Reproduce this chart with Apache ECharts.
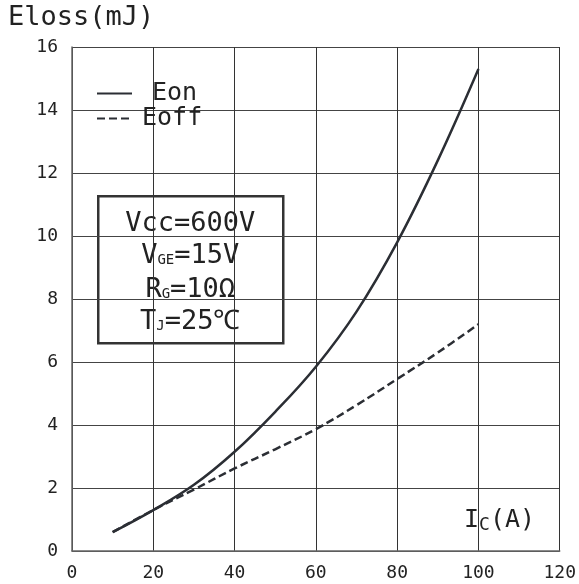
<!DOCTYPE html>
<html>
<head>
<meta charset="utf-8">
<script src="https://cdn.jsdelivr.net/npm/echarts@6/dist/echarts.min.js"></script>
<style>html,body{margin:0;padding:0;background:#fff;}#c{width:579px;height:584px;}</style>
</head>
<body>
<div id="c"></div>
<script>
const Ic = [10, 20, 30, 40, 50, 60, 70, 80, 90, 100];
const Eon = [0.6, 1.3, 2.1, 3.15, 4.42, 5.85, 7.6, 9.8, 12.4, 15.3];
const Eoff = [0.6, 1.3, 1.95, 2.62, 3.23, 3.87, 4.63, 5.46, 6.3, 7.2];
const xTicks = [0, 20, 40, 60, 80, 100, 120];
const yTicks = [0, 2, 4, 6, 8, 10, 12, 14, 16];

const FONT = 'DejaVu Sans Mono';
const INK = '#2b2e34';
const chart = echarts.init(document.getElementById('c'));
chart.setOption({
  animation: false,
  backgroundColor: '#fff',
  grid: { left: 72, right: 19, top: 47, bottom: 33 },
  xAxis: {
    type: 'value', min: xTicks[0], max: xTicks[xTicks.length - 1], interval: 20,
    axisLine: { lineStyle: { color: '#666', width: 1.5 } },
    axisTick: { show: false },
    axisLabel: { fontFamily: FONT, fontSize: 18, color: '#222', margin: 13 },
    splitLine: { show: true, lineStyle: { color: '#333', width: 1 } }
  },
  yAxis: {
    type: 'value', min: yTicks[0], max: yTicks[yTicks.length - 1], interval: 2,
    axisLine: { show: true, lineStyle: { color: '#666', width: 1.5 } },
    axisTick: { show: false },
    axisLabel: { fontFamily: FONT, fontSize: 18, color: '#222', margin: 14 },
    splitLine: { show: true, lineStyle: { color: '#444', width: 1 } }
  },
  legend: {
    orient: 'vertical', left: 91, top: 76, itemWidth: 35, itemHeight: 14, itemGap: 0,
    itemStyle: { opacity: 0 },
    textStyle: { fontFamily: FONT, fontSize: 25, color: '#222' },
    data: [
      { name: 'Eon', textStyle: { padding: [0, 0, 0, 15] } },
      { name: 'Eoff', textStyle: { padding: [0, 0, 0, 5] } }
    ]
  },
  series: [
    { name: 'Eon', type: 'line', smooth: 0.4, showSymbol: false, symbol: 'none',
      data: Ic.map((x, i) => [x, Eon[i]]),
      lineStyle: { color: INK, width: 2.5 }, itemStyle: { color: INK } },
    { name: 'Eoff', type: 'line', smooth: 0.4, showSymbol: false, symbol: 'none',
      data: Ic.map((x, i) => [x, Eoff[i]]),
      lineStyle: { color: INK, width: 2.5, type: [8, 4] }, itemStyle: { color: INK } }
  ],
  graphic: [
    { type: 'text', left: 8, top: 4,
      style: { text: 'Eloss(mJ)', font: '27px "' + FONT + '"', fill: '#222' } },
    { type: 'text', left: 464, top: 508,
      style: { text: '{b|I}{s|C}{b|(A)}', fill: '#222',
        rich: { b: { font: '25px "' + FONT + '"', fill: '#222' },
                s: { font: '18px "' + FONT + '"', fill: '#222', padding: [10, 0, 0, 0] } } } },
    { type: 'group', left: 97, top: 195, children: [
      { type: 'rect', shape: { x: 0, y: 0, width: 185, height: 147 },
        style: { fill: '#fff', stroke: '#333', lineWidth: 2.5 } },
      { type: 'text', x: 92, y: 14, style: { text: '{b|Vcc=600V}', align: 'center',
        rich: { b: { font: '27px "' + FONT + '"', fill: '#222' } } } },
      { type: 'text', x: 92, y: 46, style: { text: '{b|V}{s|GE}{b|=15V}', align: 'center',
        rich: { b: { font: '27px "' + FONT + '"', fill: '#222' },
                s: { font: '14px "' + FONT + '"', fill: '#222', padding: [10, 0, 0, 0] } } } },
      { type: 'text', x: 92, y: 80, style: { text: '{b|R}{s|G}{b|=10Ω}', align: 'center',
        rich: { b: { font: '27px "' + FONT + '"', fill: '#222' },
                s: { font: '14px "' + FONT + '"', fill: '#222', padding: [10, 0, 0, 0] } } } },
      { type: 'text', x: 92, y: 112, style: { text: '{b|T}{s|J}{b|=25℃}', align: 'center',
        rich: { b: { font: '27px "' + FONT + '"', fill: '#222' },
                s: { font: '14px "' + FONT + '"', fill: '#222', padding: [10, 0, 0, 0] } } } }
    ] }
  ]
});
</script>
</body>
</html>
